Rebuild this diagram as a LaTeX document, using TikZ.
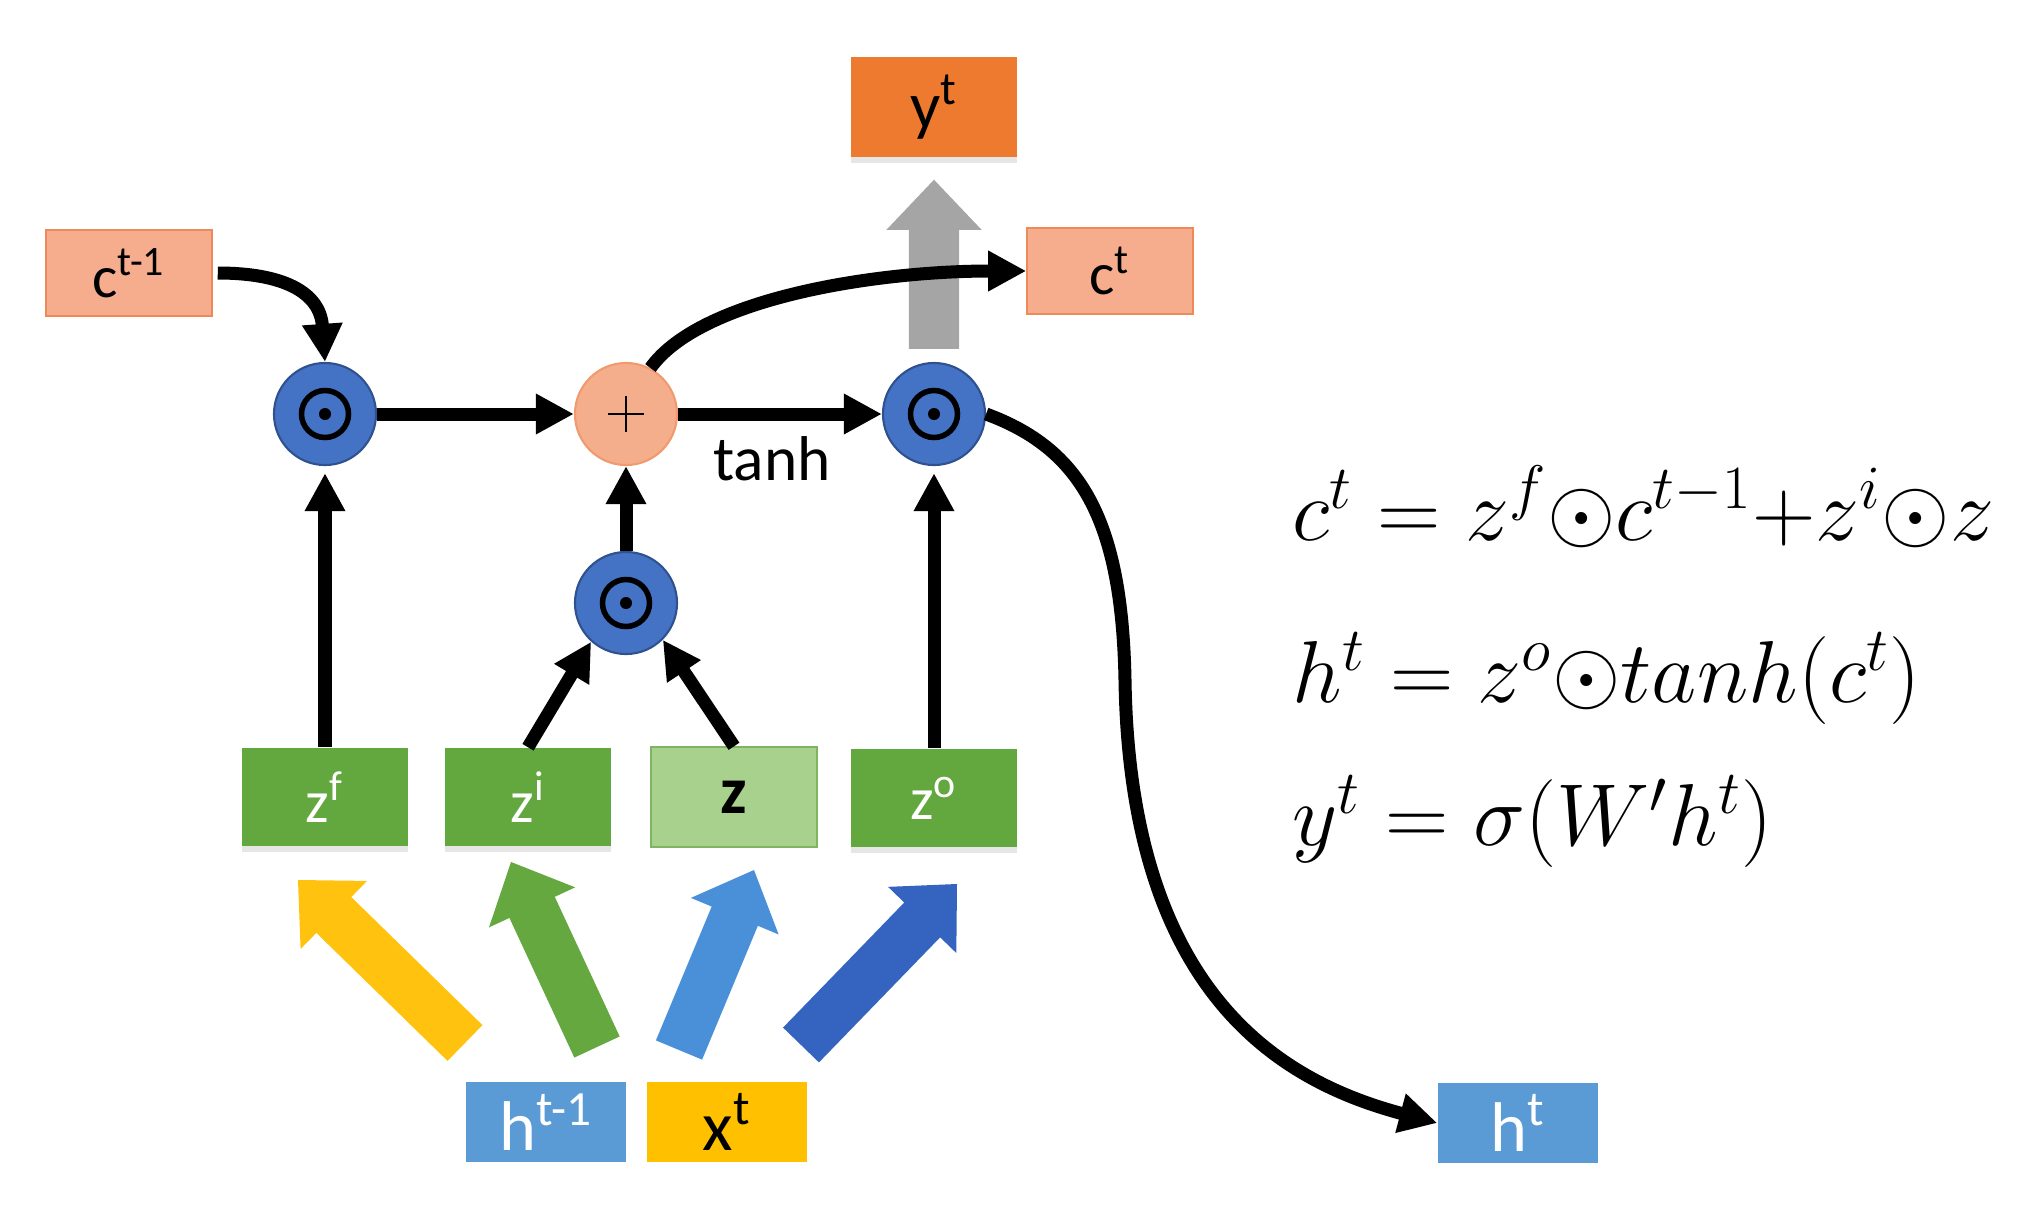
\RequirePackage{fix-cm}
\documentclass[tikz,border=0pt]{standalone}
\usepackage{amsmath, amssymb}
\usepackage[no-math]{fontspec}
\setmainfont{Carlito}
\usepackage{tikz}
\usetikzlibrary{arrows.meta}
\usetikzlibrary{calc}
\usetikzlibrary{shadows}

\definecolor{opblue}{HTML}{4472C4}
\definecolor{opedge}{HTML}{2F528F}
\definecolor{plusfill}{HTML}{F5AE8B}
\definecolor{plusedge}{HTML}{F19A6F}
\definecolor{cfill}{HTML}{F5AD8E}
\definecolor{cedge}{HTML}{EE8A5A}
\definecolor{yfill}{HTML}{EE7A30}
\definecolor{zgreen}{HTML}{63A83E}
\definecolor{zlight}{HTML}{A9D18E}
\definecolor{zedge}{HTML}{7FB55E}
\definecolor{hblue}{HTML}{5B9BD5}
\definecolor{xgold}{HTML}{FFC000}
\definecolor{arrowyellow}{HTML}{FFC20E}
\definecolor{arrowgreen}{HTML}{64A83F}
\definecolor{arrowsky}{HTML}{4A90D9}
\definecolor{arrowblue}{HTML}{3563C0}
\definecolor{arrowgray}{HTML}{A5A5A5}

\begin{document}
\begin{tikzpicture}[
    x=0.01cm, y=-0.01cm,
    every node/.style={color=black},
    conn/.style={line width=0.13cm, -{Triangle[length=0.38cm,width=0.38cm]}},
    opnode/.style={circle, draw=opedge, fill=opblue, line width=0.6pt,
        minimum size=1.02cm, inner sep=0pt,
        path picture={
            \draw[black, line width=0.055cm] (path picture bounding box.center) circle (0.235cm);
            \fill[black] (path picture bounding box.center) circle (0.06cm);}},
    plusnode/.style={circle, draw=plusedge, fill=plusfill, line width=0.6pt,
        minimum size=1.02cm, inner sep=0pt,
        path picture={
            \draw[black, line width=0.7pt] ($(path picture bounding box.center)+(-18,0)$) -- ++(36,0);
            \draw[black, line width=0.7pt] ($(path picture bounding box.center)+(0,-18)$) -- ++(0,36);}},
    cellbox/.style={rectangle, minimum width=1.66cm, minimum height=0.86cm, inner sep=0pt,
        font=\fontsize{17}{20}\selectfont},
    gatebox/.style={rectangle, minimum width=1.65cm, minimum height=0.98cm, inner sep=0pt,
        fill=zgreen, text=white, font=\fontsize{17}{20}\selectfont,
        drop shadow={opacity=0.2, shadow xshift=0pt, shadow yshift=-0.06cm}},
    inbox/.style={rectangle, minimum width=1.6cm, minimum height=0.8cm, inner sep=0pt,
        font=\fontsize{20}{24}\selectfont},
    eqtext/.style={anchor=base west, inner sep=0pt, font=\fontsize{25}{29}\selectfont},
    ]

    \useasboundingbox (0,0) rectangle (2039,1221);

    % memory cells and output
    \node[cellbox, fill=cfill, draw=cedge] (cprev) at (129,273) {c\textsuperscript{t-1}};
    \node[cellbox, fill=cfill, draw=cedge] (cnow) at (1110,271) {c\textsuperscript{t}};
    \node[cellbox, fill=yfill, minimum width=1.65cm, minimum height=1cm,
        font=\fontsize{19}{22}\selectfont,
        drop shadow={opacity=0.2, shadow xshift=0pt, shadow yshift=-0.06cm}] (yout) at (934,107) {y\textsuperscript{t}};
    % multiply and add
    \node[opnode] (fg) at (325,414) {};
    \node[plusnode] (plus) at (626,414) {};
    \node[opnode] (og) at (934,414) {};
    \node[opnode] (ig) at (626,603) {};
    % gates
    \node[gatebox] (zf) at (325,797) {z\textsuperscript{f}};
    \node[gatebox] (zi) at (528,797) {z\textsuperscript{i}};
    \node[cellbox, fill=zlight, draw=zedge, minimum height=1cm,
        font=\fontsize{19}{22}\selectfont\bfseries] (zz) at (734,797) {z};
    \node[gatebox] (zo) at (934,798) {z\textsuperscript{o}};
    % inputs and hidden state
    \node[inbox, fill=hblue, text=white] (hprev) at (546,1122) {h\textsuperscript{t-1}};
    \node[inbox, fill=xgold] (xin) at (727,1122) {x\textsuperscript{t}};
    \node[inbox, fill=hblue, text=white] (hnow) at (1518,1123) {h\textsuperscript{t}};

    % define big arrow ends
    \coordinate (ftail) at (465,1043); \coordinate (ftip) at (298,880);
    \coordinate (itail) at (597,1047); \coordinate (itip) at (511,862);
    \coordinate (ztail) at (679,1050); \coordinate (ztip) at (754,870);
    \coordinate (otail) at (801,1045); \coordinate (otip) at (957,884);
    \coordinate (ytail) at ($(og.north)+(0,-13)$); \coordinate (ytip) at ($(yout.south)+(0,22)$);
    \coordinate (bend) at (1125,680);

    % big arrows
    \foreach \tl/\tp/\col in {ftail/ftip/arrowyellow, itail/itip/arrowgreen,
        ztail/ztip/arrowsky, otail/otip/arrowblue, ytail/ytip/arrowgray}
    {
        \coordinate (hb) at ($(\tp)!0.5cm!(\tl)$);
        \fill[\col] ($(\tl)!0.25cm!90:(\tp)$) -- ($(hb)!0.25cm!90:(\tp)$)
            -- ($(hb)!0.475cm!90:(\tp)$) -- (\tp) -- ($(hb)!0.475cm!-90:(\tp)$)
            -- ($(hb)!0.25cm!-90:(\tp)$) -- ($(\tl)!0.25cm!-90:(\tp)$) -- cycle;
    }

    % connectors
    \draw[conn, shorten <=0.05cm] (cprev.east) .. controls +(70,0) and +(-5,-70) .. (fg.north);
    \draw[conn] (fg.east) -- (plus.west);
    \draw[conn] (plus.east) -- (og.west)
        node[midway, below=0.04cm, xshift=-0.08cm, font=\fontsize{18}{21}\selectfont] (tanhlbl) {tanh};
    \draw[conn] (ig.north) -- (plus.south);
    \draw[conn, shorten >=0.07cm] (zf.north) -- (fg.south);
    \draw[conn, shorten >=0.07cm] (zo.north) -- (og.south);
    \draw[conn] (zi.north) -- (ig.228);
    \draw[conn] (zz.north) -- (ig.315);
    \draw[conn] (plus.62) .. controls +(50,-70) and +(-150,0) .. (cnow.west);
    \draw[conn] (og.east) .. controls +(95,35) and +(-3,-160) .. (bend)
        .. controls +(5,320) and +(-150,-40) .. (hnow.west);

    % equations
    \node[eqtext] (eqc) at (1292,540) {$c^t = z^f{\odot}c^{t-1}{+}z^i{\odot}z$};
    \node[eqtext] (eqh) at (1292,702) {$h^t = z^o{\odot}tanh(c^t)$};
    \node[eqtext] (eqy) at (1292,845) {$y^t = \sigma(W'h^t)$};
\end{tikzpicture}
\end{document}
